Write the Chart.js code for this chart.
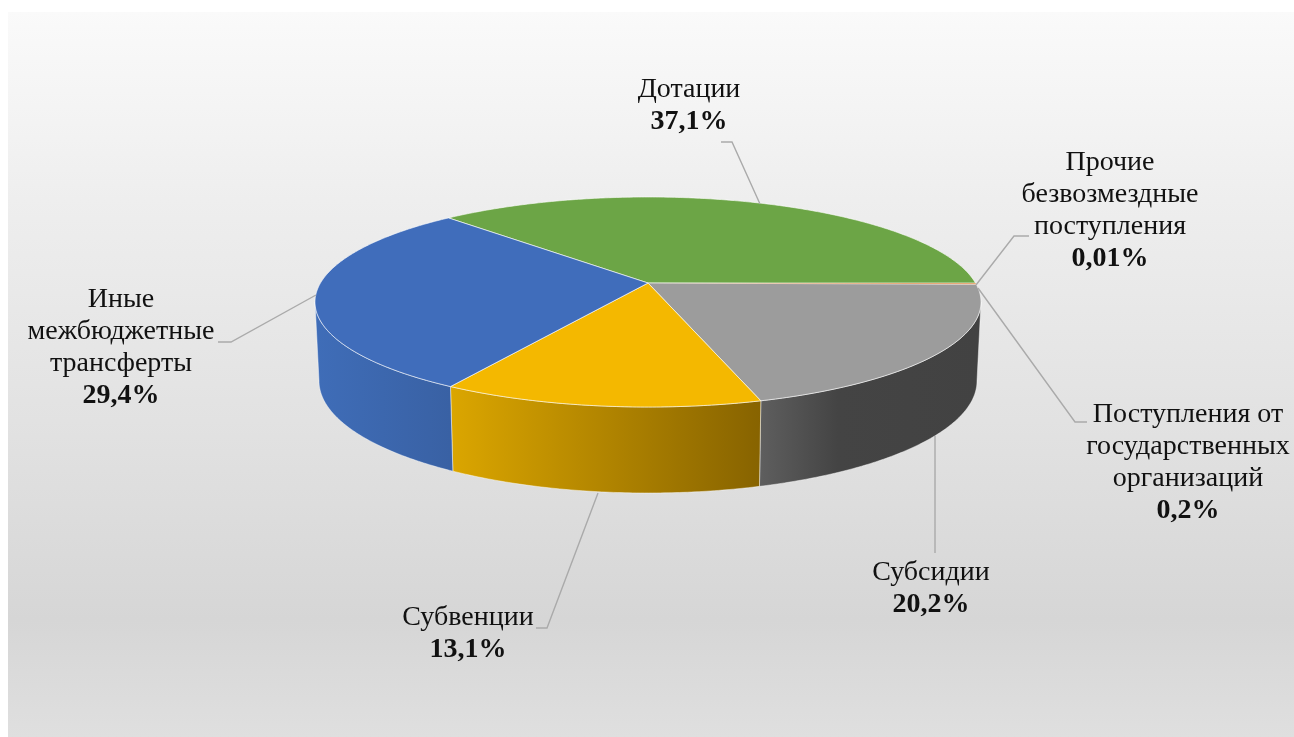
<!DOCTYPE html>
<html lang="ru">
<head>
<meta charset="utf-8">
<title>Структура безвозмездных поступлений</title>
<script src="https://cdn.jsdelivr.net/npm/chart.js@4"></script>
<style>
    html, body { margin: 0; padding: 0; background: #fff; overflow: hidden; }
    #frame {
        position: absolute; left: 8px; top: 12px; right: 0; bottom: 0;
        background: linear-gradient(to bottom, #fafafa 0, #eeeeee 188px, #e2e2e2 408px, #d6d6d6 608px, #dfdfdf 725px);
    }
    #pieChart { position: absolute; left: 0; top: 0; filter: blur(0.6px); }
</style>
</head>
<body>
<div id="frame"></div>
<canvas id="pieChart" width="1294" height="737"></canvas>
<script>
var categories = ['Дотации', 'Прочие безвозмездные поступления', 'Поступления от государственных организаций', 'Субсидии', 'Субвенции', 'Иные межбюджетные трансферты'];
var shares = [37.1, 0.01, 0.2, 20.2, 13.1, 29.4];
var labelLines = [
    ['Дотации'],
    ['Прочие', 'безвозмездные', 'поступления'],
    ['Поступления от', 'государственных', 'организаций'],
    ['Субсидии'],
    ['Субвенции'],
    ['Иные', 'межбюджетные', 'трансферты']
];
var sliceColors = ['#6ca546', '#e8a878', '#e8a878', '#9c9c9c', '#f4b800', '#406dbb'];

/* ===== Drawing settings ===== */

// side wall shades, [stop, colour], stops run left to right across the slice
var wallShades = [
    [[0, '#6ca546'], [1, '#6ca546']],
    [[0, '#e8a878'], [1, '#e8a878']],
    [[0, '#e8a878'], [1, '#e8a878']],
    [[0, '#5e5e5e'], [0.35, '#444444'], [1, '#424242']],
    [[0, '#dba600'], [1, '#876300']],
    [[0, '#3f6db8'], [1, '#3961a4']]
];
// centre x, y of the first text line
var labelAnchors = [[689, 89.5], [1110, 162.5], [1188, 414.5], [931, 572.5], [468, 617.5], [121, 299.5]];
// leader lines, from label to pie
var leaders = [
    [[721, 142], [732, 142], [760, 204]],
    [[1029, 236], [1014, 236], [976, 285]],
    [[1087, 422], [1075, 422], [978, 288]],
    [[935, 553], [935, 436]],
    [[536, 628], [547, 628], [598, 493]],
    [[218, 342], [231, 342], [316, 295]]
];
var topRim = { cx: 648, cy: 302, rx: 333, ry: 105 };
var bottomRim = { cx: 648, cy: 381, rx: 329, ry: 112 };
var APEX_SHIFT = 19 / 105; // pie centre sits above the middle of the ellipse (perspective)
var LINE_HEIGHT = 32;
var THIN_SLICE = 0.05; // radians, narrower slices get no white edge

function project(rim, angle, radius) {
    var x = radius * Math.cos(angle);
    var y = radius * Math.sin(angle);
    var d = 1 - APEX_SHIFT * y;
    return {
        x: rim.cx + rim.rx * x * Math.sqrt(1 - APEX_SHIFT * APEX_SHIFT) / d,
        y: rim.cy + rim.ry * (y - APEX_SHIFT) / d
    };
}

function rimPath(ctx, rim, from, to, first) {
    var steps = Math.max(1, Math.ceil(Math.abs(to - from) / 0.01));
    for (var i = 0; i <= steps; i++) {
        var p = project(rim, from + (to - from) * i / steps, 1);
        if (i === 0 && first) ctx.moveTo(p.x, p.y);
        else ctx.lineTo(p.x, p.y);
    }
}

function normalize(a) {
    // start of blue slice runs past 180 deg, keep it on the lower half turn
    while (a < -Math.PI / 4) a += Math.PI * 2;
    return a;
}

function drawWall(ctx, arc, shades) {
    // only the part between the two silhouette points faces the viewer
    var limit = Math.asin(APEX_SHIFT);
    var start = normalize(arc.startAngle);
    var end = start + (arc.endAngle - arc.startAngle);
    var from = Math.max(start, limit);
    var to = Math.min(end, Math.PI - limit);
    if (to <= from) return;

    var left = project(topRim, to, 1).x;
    var right = project(topRim, from, 1).x;
    var grad = ctx.createLinearGradient(left, 0, right, 0);
    shades.forEach(function (s) { grad.addColorStop(s[0], s[1]); });

    ctx.beginPath();
    rimPath(ctx, topRim, from, to, true);
    rimPath(ctx, bottomRim, to, from, false);
    ctx.closePath();
    ctx.fillStyle = grad;
    ctx.fill();
    ctx.strokeStyle = 'rgba(255,255,255,0.45)';
    ctx.lineWidth = 1;
    ctx.stroke();
}

function drawTop(ctx, arc, color, withEdge) {
    var apex = project(topRim, 0, 0);
    ctx.beginPath();
    ctx.moveTo(apex.x, apex.y);
    rimPath(ctx, topRim, arc.startAngle, arc.endAngle, false);
    ctx.closePath();
    ctx.fillStyle = color;
    ctx.fill();
    if (!withEdge) return;
    ctx.strokeStyle = 'rgba(255,255,255,0.6)';
    ctx.lineWidth = 1;
    ctx.stroke();
}

var pie3dPlugin = {
    id: 'pie3d',
    beforeDatasetsDraw: function (chart) {
        var ctx = chart.ctx;
        var arcs = chart.getDatasetMeta(0).data;
        ctx.save();
        arcs.forEach(function (arc, i) {
            drawWall(ctx, arc, wallShades[i]);
        });
        arcs.forEach(function (arc) {
            if (arc.endAngle - arc.startAngle >= THIN_SLICE) drawTop(ctx, arc, arc.options.backgroundColor, true);
        });
        // thin slices go last so the white edges do not hide them
        arcs.forEach(function (arc) {
            if (arc.endAngle - arc.startAngle < THIN_SLICE) drawTop(ctx, arc, arc.options.backgroundColor, false);
        });
        ctx.restore();
        return false; // flat arcs are replaced by the tilted ones
    }
};

var pieLabelsPlugin = {
    id: 'pieLabels',
    afterDraw: function (chart) {
        var ctx = chart.ctx;
        ctx.save();

        ctx.strokeStyle = '#aaaaaa';
        ctx.lineWidth = 1.4;
        leaders.forEach(function (line) {
            ctx.beginPath();
            line.forEach(function (p, i) {
                if (i === 0) ctx.moveTo(p[0], p[1]);
                else ctx.lineTo(p[0], p[1]);
            });
            ctx.stroke();
        });

        ctx.fillStyle = '#111111';
        ctx.textAlign = 'center';
        ctx.textBaseline = 'middle';
        labelLines.forEach(function (lines, i) {
            var x = labelAnchors[i][0];
            var y = labelAnchors[i][1];
            ctx.font = '28px "Liberation Serif"';
            lines.forEach(function (text, n) {
                ctx.fillText(text, x, y + n * LINE_HEIGHT);
            });
            ctx.font = 'bold 28px "Liberation Serif"';
            ctx.fillText(String(shares[i]).replace('.', ',') + '%', x, y + lines.length * LINE_HEIGHT);
        });
        ctx.restore();
    }
};

new Chart(document.getElementById('pieChart'), {
    type: 'pie',
    data: {
        labels: categories,
        datasets: [{ data: shares, backgroundColor: sliceColors, borderWidth: 0 }]
    },
    options: {
        responsive: false,
        animation: false,
        rotation: -43.56,
        plugins: { legend: { display: false }, tooltip: { enabled: false } }
    },
    plugins: [pie3dPlugin, pieLabelsPlugin]
});
</script>
</body>
</html>
